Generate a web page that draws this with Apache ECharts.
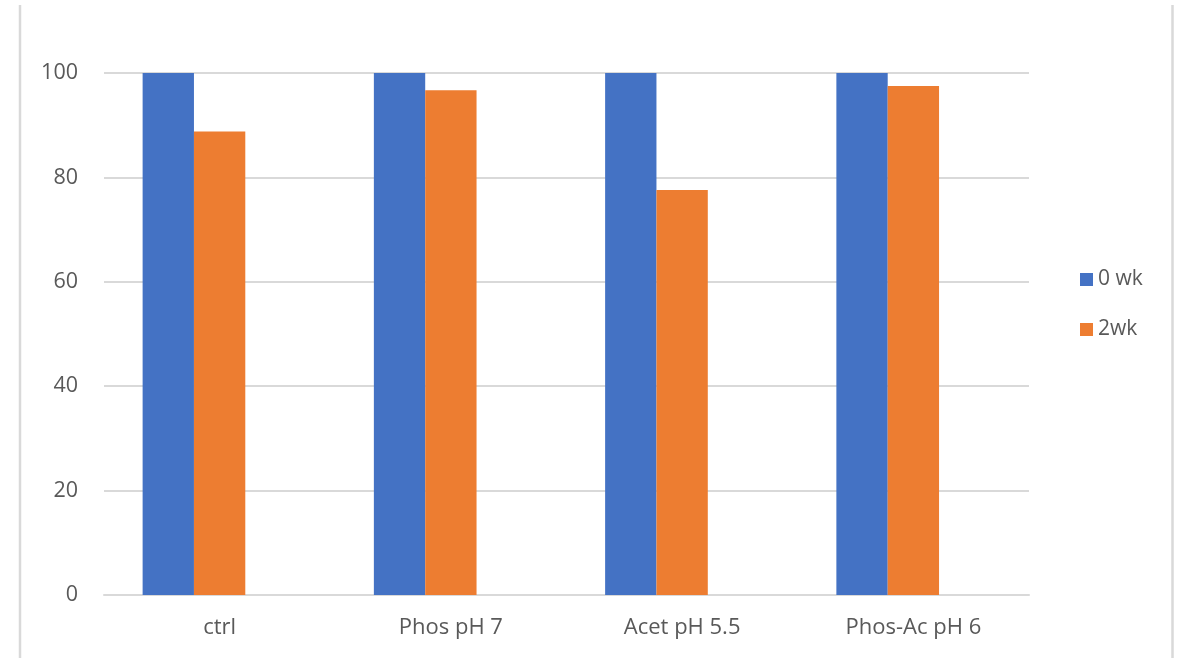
<!DOCTYPE html>
<html>
<head>
<meta charset="utf-8">
<script src="https://cdn.jsdelivr.net/npm/echarts@6/dist/echarts.min.js"></script>
<style>
  html, body { margin: 0; padding: 0; background: #fff; }
  #chart { width: 1178px; height: 658px; }
</style>
</head>
<body>
<div id="chart"></div>
<script>
// Categories and measured values (% remaining)
const categories = ['ctrl', 'Phos pH 7', 'Acet pH 5.5', 'Phos-Ac pH 6'];
const week0 = [100, 100, 100, 100];
const week2 = [88.8, 96.7, 77.6, 97.5];
const emptySlot = ['-', '-', '-', '-'];
const seriesNames = ['0 wk', '2wk'];

const FONT = '"Open Sans", "Noto Sans", sans-serif';
const TEXT = '#595959';
const GRID = '#d9d9d9';

const chart = echarts.init(document.getElementById('chart'), null, { renderer: 'canvas' });

chart.setOption({
  animation: false,
  backgroundColor: '#ffffff',
  grid: { left: 104, right: 149, top: 73, bottom: 63, containLabel: false },
  legend: {
    data: seriesNames,
    orient: 'vertical',
    left: 1075,
    top: 264,
    itemWidth: 13,
    itemHeight: 13,
    itemGap: 29,
    icon: 'rect',
    textStyle: { color: TEXT, fontFamily: FONT, fontSize: 21, lineHeight: 21 }
  },
  xAxis: {
    type: 'category',
    data: categories,
    axisLine: { show: true, lineStyle: { color: GRID, width: 2 } },
    axisTick: { show: false },
    axisLabel: { color: TEXT, fontFamily: FONT, fontSize: 22, margin: 22 }
  },
  yAxis: {
    type: 'value',
    min: 0,
    max: 100,
    interval: 20,
    axisLine: { show: false },
    axisTick: { show: false },
    splitLine: { lineStyle: { color: GRID, width: 2 } },
    axisLabel: { color: TEXT, fontFamily: FONT, fontSize: 21.5, margin: 26 }
  },
  series: [
    {
      name: seriesNames[0], type: 'bar', data: week0,
      itemStyle: { color: '#4472C4' },
      barGap: '0%', barCategoryGap: '33.4%'
    },
    {
      name: seriesNames[1], type: 'bar', data: week2,
      itemStyle: { color: '#ED7D31' },
      barGap: '0%', barCategoryGap: '33.4%'
    },
    {
      // third slot in each group is left empty
      name: 'slot', type: 'bar', data: emptySlot,
      barGap: '0%', barCategoryGap: '33.4%'
    }
  ],
  graphic: [
    { type: 'line', shape: { x1: 20, y1: 5, x2: 20, y2: 658 }, style: { stroke: GRID, lineWidth: 2.5 } },
    { type: 'line', shape: { x1: 1172.5, y1: 5, x2: 1172.5, y2: 658 }, style: { stroke: GRID, lineWidth: 2.5 } }
  ]
});
</script>
</body>
</html>
